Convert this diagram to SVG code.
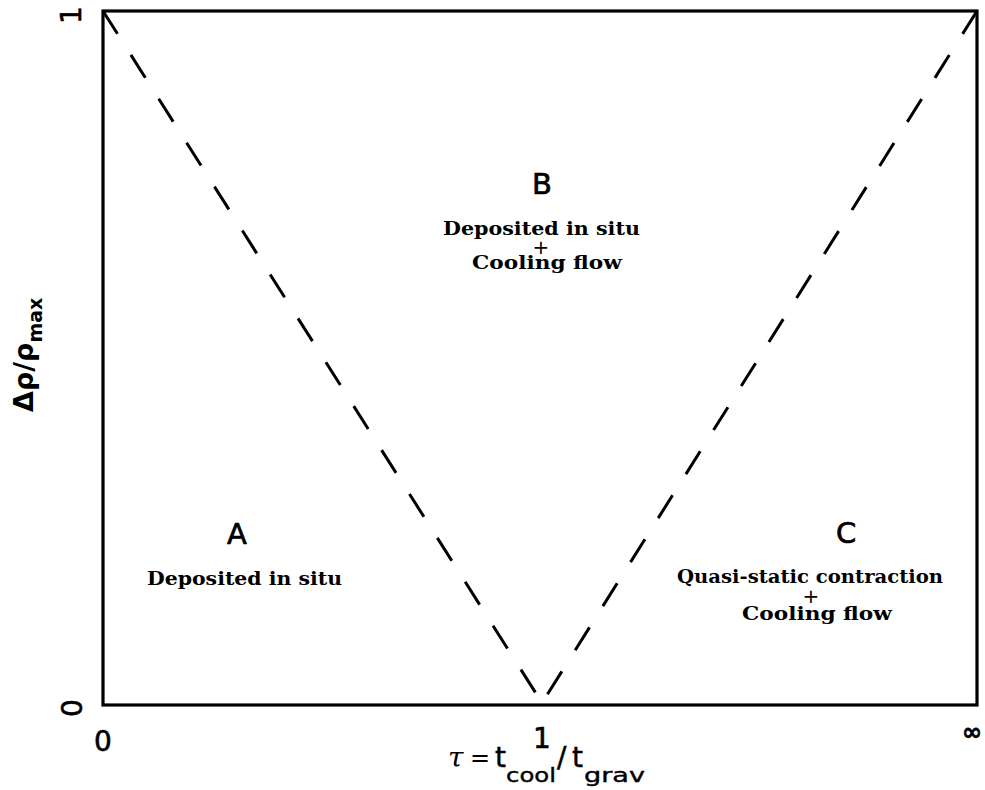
<svg xmlns="http://www.w3.org/2000/svg" width="985" height="790" viewBox="0 0 985 790">
<style>
.frame{fill:none;stroke:#000;stroke-width:3.2}
.dash{fill:none;stroke:#000;stroke-width:3;stroke-dasharray:27 25;stroke-linecap:butt}
.reg{font-family:"DejaVu Sans","Liberation Sans",sans-serif;font-size:29px;fill:#000;stroke:#000;stroke-width:0.7;text-anchor:middle}
.desc{font-family:"DejaVu Serif","Liberation Serif",serif;font-weight:bold;font-size:19px;fill:#000;text-anchor:middle}
.plus{font-family:"DejaVu Sans",sans-serif;font-size:20px;fill:#000;text-anchor:middle}
.tick{font-family:"DejaVu Sans","Liberation Sans",sans-serif;font-size:28px;fill:#000;stroke:#000;stroke-width:0.6;text-anchor:middle}
.axis{font-family:"DejaVu Sans","Liberation Sans",sans-serif;font-weight:bold;font-size:27px;fill:#000}
.sub{font-family:"DejaVu Sans","Liberation Sans",sans-serif;font-weight:bold;font-size:19px;fill:#000}
.xl{font-family:"DejaVu Sans","Liberation Sans",sans-serif;font-size:28px;fill:#000;stroke:#000;stroke-width:0.5}
.xs{font-family:"DejaVu Sans","Liberation Sans",sans-serif;font-size:20px;fill:#000;stroke:#000;stroke-width:0.4}
</style>
<rect class="frame" x="103" y="11" width="874" height="694"/>
<g id="connectors">
<line class="dash" x1="103" y1="11" x2="537" y2="695"/>
<line class="dash" x1="977" y1="11" x2="547" y2="695"/>
</g>
<g id="regionA">
<text class="reg" x="237" y="544">A</text>
<text class="desc" x="244.5" y="585" textLength="195" lengthAdjust="spacingAndGlyphs">Deposited in situ</text>
</g>
<g id="regionB">
<text class="reg" x="542" y="194">B</text>
<text class="desc" x="541.5" y="235" textLength="197" lengthAdjust="spacingAndGlyphs">Deposited in situ</text>
<text class="plus" x="541" y="254">+</text>
<text class="desc" x="547" y="269" textLength="150" lengthAdjust="spacingAndGlyphs">Cooling flow</text>
</g>
<g id="regionC">
<text class="reg" x="846" y="543">C</text>
<text class="desc" x="810" y="583" textLength="266" lengthAdjust="spacingAndGlyphs">Quasi-static contraction</text>
<text class="plus" x="811" y="603">+</text>
<text class="desc" x="817" y="620" textLength="150" lengthAdjust="spacingAndGlyphs">Cooling flow</text>
</g>
<g id="yaxis">
<text class="tick" transform="translate(81,15) rotate(-90)" x="0" y="0">1</text>
<text class="tick" transform="translate(82,708) rotate(-90)" x="0" y="0">0</text>
<text class="axis" transform="translate(33,412) rotate(-90)" x="0" y="0">Δρ/ρ<tspan class="sub" dy="9">max</tspan></text>
</g>
<g id="xaxis">
<text class="tick" x="103" y="751">0</text>
<text class="tick" x="542" y="748">1</text>
<text class="tick" x="972" y="740" style="font-weight:bold;font-size:24px">∞</text>
<text style="font-family:'DejaVu Serif','Liberation Serif',serif;font-style:italic;font-size:28px" x="448" y="767">τ</text>
<text style="font-family:'DejaVu Sans',sans-serif;font-size:24px" x="470" y="766">=</text>
<text class="xl" x="495" y="767">t</text>
<text class="xs" x="506" y="782" textLength="50" lengthAdjust="spacingAndGlyphs">cool</text>
<text class="xl" x="557" y="767">/</text>
<text class="xl" x="572" y="767">t</text>
<text class="xs" x="584" y="782" textLength="61" lengthAdjust="spacingAndGlyphs">grav</text>
</g>
</svg>
